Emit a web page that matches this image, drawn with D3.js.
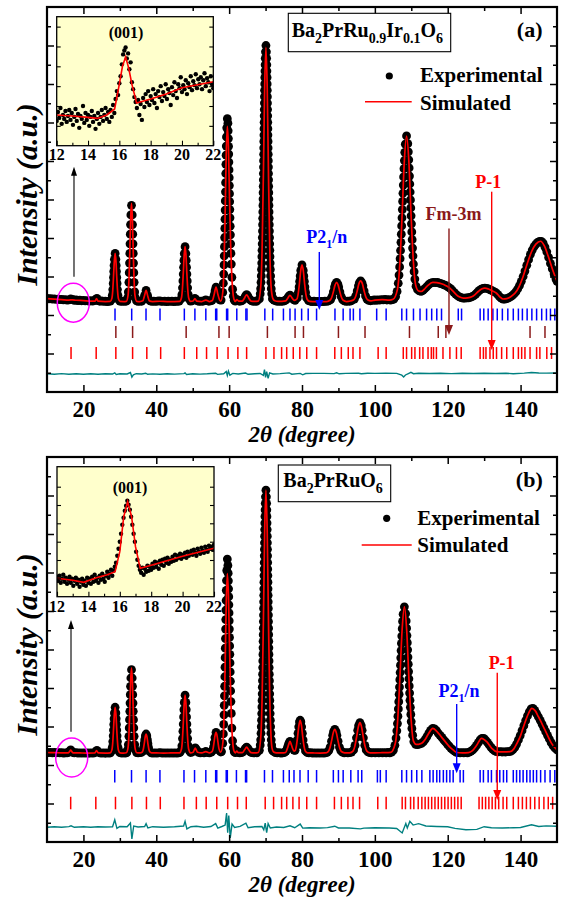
<!DOCTYPE html>
<html>
<head>
<meta charset="utf-8">
<script src="https://cdn.jsdelivr.net/npm/d3@7"></script>
<style>
  body { margin: 0; background: #fff; }
  svg { display: block; }
  text { font-family: "Liberation Serif", "Times New Roman", serif; font-weight: bold; }
</style>
</head>
<body>
<svg id="chart" width="563" height="897"></svg>
<script>
// ---------- axis definitions ----------
const twoThetaDomain = [10, 150];
const intensityDomain = [0, 400];
const xMajorTicks = [20, 40, 60, 80, 100, 120, 140];
const xMinorTicks = [30, 50, 70, 90, 110, 130];
const yMajorTicks = [40, 80, 120, 160, 200, 240, 280, 320, 360];
const yMinorTicks = [20, 60, 100, 140, 180, 220, 260, 300, 340, 380];
const insetDomain = [12, 22];
const insetIntensityDomain = [0, 130];
const insetMajorTicks = [12, 14, 16, 18, 20, 22];
const insetMinorTicks = [13, 15, 17, 19, 21];

// ---------- (a) Ba2PrRu0.9Ir0.1O6 ----------
const obsA = [
[10,97.2],[10.5,96.8],[11,97],[11.5,96.5],[12,96.7],[12.5,96.2],[13,96.4],[13.5,95.9],[14,96.3],[14.5,95.7],[15,96],[15.5,95.4],[16,95.8],[16.5,96.6],[17,96.2],[17.5,95.3],[18,95.6],[18.5,95],[19,95.3],[19.5,94.8],[20,95.2],[20.5,94.7],[21,95],[21.5,94.5],[22,94.8],[22.5,94.4],[23,94.9],[23.4,96.2],[23.7,97.3],[24,95],[24.5,94.3],[25,94.6],[25.5,94.1],[26,94.4],[26.5,94],[27,94.3],[27.4,94.5],
[27.76,96.5],[27.92,100.3],[28.06,106.5],[28.17,112.8],[28.25,119],[28.33,125.3],[28.41,131.5],[28.5,137.8],[28.7,144],[28.9,137.8],[28.99,131.5],[29.07,125.3],[29.15,119],[29.24,112.8],[29.34,106.5],[29.48,100.3],[29.64,96.5],
[30,94.4],[30.5,94.2],[31,94.5],[31.5,94.1],[31.9,94.6],
[32.17,98],[32.33,104],[32.48,114],[32.57,124],[32.65,134],[32.73,144],[32.79,154],[32.86,164],[32.93,174],[33.02,184],[33.2,194],[33.39,184],[33.47,174],[33.54,164],[33.61,154],[33.68,144],[33.75,134],[33.83,124],[33.92,114],[34.07,104],[34.23,98],
[34.6,94.6],[35,94.2],[35.5,94.5],[36,94.3],
[36.5,96.5],[36.8,100.5],[37.2,105.5],[37.6,100.5],[37.9,96.5],
[38.3,94.6],[38.8,94.2],[39.3,94.5],[39.8,94.1],[40.3,94.4],[40.8,94.6],[41.3,94.3],[41.8,94.1],[42.3,94.4],[42.8,94],[43.3,94.3],[43.8,94.1],[44.3,94.4],[44.8,94],[45.3,94.3],[45.8,94.1],[46.3,94.5],
[46.86,96.9],[47.03,101.1],[47.19,108.3],[47.31,115.4],[47.4,122.5],[47.49,129.6],[47.58,136.8],[47.68,143.9],[47.9,151],[48.12,143.9],[48.22,136.8],[48.31,129.6],[48.4,122.5],[48.5,115.4],[48.61,108.3],[48.77,101.1],[48.94,96.9],
[49.4,94.5],[49.9,94.8],[50.3,96],[50.6,97.2],[50.9,96],[51.3,94.6],[51.8,94.2],[52.3,94.5],[52.8,94.3],[53.3,95],[53.6,95.6],[53.9,95],[54.4,94.3],[54.9,94.6],[55.3,95.2],
[55.7,98],[55.95,101.5],[56.15,105.5],[56.4,109],[56.65,105.5],[56.85,101.5],[57.1,98],[57.4,95.8],
[57.8,95.5],[58.25,103.5],[58.41,113],[58.51,122.5],[58.59,132],[58.65,141.5],[58.71,151],[58.76,160.5],[58.81,170],[58.86,179.5],[58.9,189],[58.94,198.5],[58.99,208],[59.03,217.5],[59.07,227],[59.11,236.5],[59.16,246],[59.21,255.5],[59.27,265],[59.34,274.5],[59.5,284],
[59.66,279.3],[59.73,271.3],[59.79,263.3],[59.84,255.2],[59.89,247.2],[59.93,238.9],[59.97,230.7],[60.02,222.7],[60.06,214.5],[60.1,206.1],[60.14,197.7],[60.19,189.5],[60.24,181],[60.29,172.3],[60.35,163.3],[60.41,154],[60.49,144],[60.59,132.9],[60.75,119.2],[60.95,106.8],[61.15,99.6],[61.4,95.4],
[61.7,94.4],[62.1,96.2],[62.5,94.8],[62.9,94.3],[63.4,94.6],[63.8,95.6],[64.2,97.6],[64.5,99.8],[64.8,101.2],[65.1,99.8],[65.4,97.6],[65.8,95.6],[66.2,94.6],[66.7,94.2],[67.2,94.5],[67.6,94.3],
[68.3,96.7],[68.53,102],[68.65,107.3],[68.75,114],[68.82,120.6],[68.89,127.3],[68.94,133.9],[68.99,140.6],[69.03,147.2],[69.07,153.9],[69.11,160.5],[69.15,167.2],[69.18,173.8],[69.21,180.5],[69.24,187.1],[69.27,193.8],[69.3,200.4],[69.32,207.1],[69.35,213.7],[69.38,220.4],[69.4,227],[69.43,233.7],[69.45,240.3],[69.47,247],[69.5,253.6],[69.52,260.3],[69.55,266.9],[69.57,273.6],[69.6,280.2],[69.62,286.9],[69.65,293.5],[69.68,300.2],[69.7,306.8],[69.73,313.5],[69.76,320.1],[69.79,326.8],[69.83,333.4],[69.87,340],[69.91,346.7],[69.97,353.4],[70.1,360],
[70.23,353.4],[70.29,346.7],[70.34,340],[70.37,333.4],[70.41,326.8],[70.44,320.1],[70.47,313.5],[70.5,306.8],[70.52,300.2],[70.55,293.5],[70.58,286.9],[70.6,280.2],[70.63,273.6],[70.65,266.9],[70.68,260.3],[70.7,253.6],[70.73,247],[70.75,240.3],[70.78,233.7],[70.8,227],[70.83,220.4],[70.85,213.7],[70.88,207.1],[70.91,200.4],[70.93,193.8],[70.96,187.1],[70.99,180.5],[71.02,173.8],[71.06,167.2],[71.09,160.5],[71.13,153.9],[71.17,147.2],[71.21,140.6],[71.26,133.9],[71.31,127.3],[71.38,120.6],[71.45,114],[71.56,107.3],[71.68,102],[71.9,96.7],
[72,97.2],[72.3,95.5],[72.8,94.6],[73.3,94.2],[73.8,94.5],[74.3,94.1],[74.8,94.4],[75.3,94.8],
[75.7,96],[76.1,97.8],[76.4,99.6],[76.7,100.6],[77,99.6],[77.3,97.8],[77.7,96],[78.1,95.2],
[78.72,97.8],[79.01,103.5],[79.2,109.2],[79.35,114.9],[79.5,120.6],[79.66,126.3],[80,132],[80.34,126.3],[80.5,120.6],[80.65,114.9],[80.8,109.2],[80.99,103.5],[81.28,97.8],
[81.8,95],[82.3,94.3],[82.8,94],[83.3,94.3],[83.8,94],[84.3,94.2],[84.8,93.9],[85.3,94.2],[85.8,94],[86.3,94.3],[86.8,94.1],[87.3,94.6],
[87.86,96],[88.23,99],[88.6,104],[88.92,109],[89.15,112],[89.5,114],[89.85,112],[90.08,109],[90.4,104],[90.77,99],[91.14,96],
[91.6,94.6],[92.1,94.2],[92.6,94.4],[93.1,94.3],[93.6,94.8],
[94.37,96.6],[94.76,99.8],[95.15,105],[95.49,110.3],[95.73,113.4],[96.1,115.5],[96.47,113.4],[96.71,110.3],[97.05,105],[97.44,99.8],[97.83,96.6],
[98.3,95.2],[98.8,94.8],[99.3,95.1],[99.8,95.6],[100.3,95.3],[100.8,95.8],[101.3,95.5],[101.8,96],[102.3,95.7],[102.8,96.1],[103.3,95.6],[103.8,95.9],[104.3,95.5],[104.8,96],[105.2,96.4],
[105.7,99.1],[106.1,104.5],[106.42,113],[106.63,121.5],[106.8,130],[106.93,138.5],[107.05,147],[107.16,155.5],[107.26,164],[107.36,172.5],[107.45,181],[107.54,189.5],[107.63,198],[107.71,206.5],[107.8,215],[107.89,223.5],[107.99,232],[108.1,240.5],[108.21,249],[108.36,257.5],[108.7,266],
[109.04,258],[109.19,249.5],[109.31,241.2],[109.41,232.8],[109.51,224.4],[109.6,216.1],[109.69,207.8],[109.77,199.5],[109.86,191.2],[109.95,183],[110.04,174.7],[110.14,166.3],[110.24,158.2],[110.35,149.5],[110.47,141.3],[110.58,133],[110.77,125],[110.98,117.3],[111.3,110],[111.7,106.5],[112.2,105],[112.7,104.6],
[113.2,105.5],[113.7,107.5],[114.2,109.3],[114.7,111.2],[115.2,112.8],[115.7,113.6],[116.2,114],[116.7,113.6],[117.2,113.8],[117.7,113],[118.2,112.6],[118.7,111.9],[119.2,111],[119.7,110.2],[120.2,109],[120.7,107.6],[121.2,105.8],[121.7,103.6],[122.2,101.8],[122.7,100],[123.2,98.8],[123.7,98],[124.2,97.5],[124.7,97.6],[125.2,97.7],[125.7,97.9],[126.2,98.3],[126.7,99],[127.2,100.2],[127.7,101.8],[128.2,103.7],[128.7,105.5],[129.2,106.9],[129.7,107.7],[130.2,108],[130.7,107.6],[131.2,107],[131.7,106.2],[132.2,105.2],[132.7,104.3],[133.2,103.2],[133.7,101.5],[134.2,99.2],[134.7,97.5],[135.2,96.6],[135.7,96.6],[136.2,97],[136.7,97.7],[137.2,98.8],[137.7,100.2],[138.2,101.9],[138.7,104],[139.2,107],[139.7,110.6],[140.2,115],[140.7,120],[141.2,125.6],[141.7,131.7],[142.2,137.5],[142.7,143],[143.2,147.5],[143.7,151],[144.2,153.6],[144.7,155.4],[145.2,156.5],[145.7,156.5],[146.2,154.6],[146.7,150.6],[147.2,145.6],[147.7,139.8],[148.2,133.6],[148.7,128],[149.2,122.5],[149.7,117.6],[150,115]
];
const calcA = [
[10,97],[12,96.5],[14,96],[16,95.5],[17,95.8],[18,95.3],[20,95],[22,94.5],[23.2,94.5],[23.6,97],[24,94.5],[26,94],[27.35,94.1],
[27.8,97.1],[28.03,104.5],[28.25,119],[28.48,136],[28.7,144],[28.93,136],[29.15,119],[29.38,104.5],[29.6,97.1],[30.05,94.1],[31,94],
[31.78,94.2],[32.25,100.4],[32.49,115.4],[32.73,145],[32.96,179.8],[33.2,196],[33.44,179.8],[33.68,145],[33.91,115.4],[34.15,100.4],[34.63,94.2],[35.5,94],
[36.3,94.7],[36.75,99.8],[37.2,105.5],[37.65,99.8],[38.1,94.7],[39,94],[41,94.3],[43,94],[45,94],[46.4,94.1],
[46.9,97.6],[47.15,106],[47.4,122.5],[47.65,142],[47.9,151],[48.15,142],[48.4,122.5],[48.65,106],[48.9,97.6],[49.4,94.1],
[50.1,94.5],[50.6,97],[51.1,94.5],[52.5,94],[53.6,95.5],[54.6,94],
[55.4,95],[55.9,101.5],[56.4,109],[56.9,101.5],[57.4,95.5],[57.7,94.4],
[58.3,105.4],[58.6,132.2],[58.9,185],[59.2,247],[59.5,276],[59.8,255],[60.1,202],[60.4,154],[60.7,122.5],[61,104.5],[61.3,96.7],[61.7,94.2],
[62.1,96],[62.6,94.5],[63.6,94.5],[64.2,97.5],[64.8,101],[65.4,97.5],[66,94.5],[67,94.2],
[68,94.5],[68.7,110.5],[69.05,149.4],[69.4,226],[69.75,316],[70.1,358],[70.45,316],[70.8,226],[71.15,149.4],[71.5,110.5],[72,97],[72.5,94.8],[73.5,94.2],[74.5,94.2],
[75.5,94.6],[76.1,97.5],[76.7,100.5],[77.3,97.5],[77.9,95.2],
[78.6,96.6],[78.95,102],[79.3,113],[79.65,126],[80,132],[80.35,126],[80.7,113],[81.05,102],[81.4,96.4],[82.1,94.1],[83,94],[85,94],[86.8,94],
[87.7,95.3],[88.15,98.2],[88.6,104],[89.05,110.8],[89.5,114],[89.95,110.8],[90.4,104],[90.85,98.2],[91.3,95.3],[92.2,94],[93.25,94.5],
[94.2,95.8],[94.7,99],[95.15,105],[95.6,112.2],[96.1,115.5],[96.6,112.2],[97.05,105],[97.5,99],[98,95.8],[98.95,94.6],[100,95.5],[102,96],[104,95.5],[105,96.3],
[106.2,106.6],[106.83,131.7],[107.45,181],[108.08,239],[108.7,266],[109.33,240],[109.95,183],[110.58,135.2],[111.2,111],[112,105],[112.8,104.5],
[113.5,106.5],[114.5,110.5],[115.9,113.9],[117,113.6],[118.3,112.5],[119.5,110.5],[120.6,107.9],[121.5,104.5],[122.4,101],[123.3,98.6],[124.3,97.5],[125.5,97.8],[126.6,98.9],[127.5,101.2],[128.4,104.4],[129.3,107],[130.2,108],[131.2,107],[132.3,105],[133.4,102.6],[134.3,98.9],[135.2,96.6],[136.2,97],[137.3,99],[138.5,102.8],[139.6,109.6],[140.7,120],[141.8,133],[143,145.7],[144.2,153.6],[145.5,156.6],[146.5,152],[147.6,141],[148.8,127],[150,115]
];
const diffA = [
[10,0.3],[12,-0.2],[14,0.4],[16,-0.3],[18,0.2],[20,-0.2],[22,0.3],[24,-0.2],[26,0.2],[28,0],[28.6,1.2],[29,-0.4],[30,0.2],[32,0],[32.9,1.5],[33.3,-3.2],[33.7,-0.8],[34.5,0.3],[36,0],[37.1,0.8],[37.6,-0.3],[39,0.1],[41,-0.2],[43,0.2],[45,-0.1],[47.6,0.4],[47.9,1.2],[48.3,-0.5],[50,0.2],[52,-0.1],[54,0.2],[56.3,0.8],[56.8,-0.4],[58.5,0.3],[59.2,2.5],[59.5,-1.5],[59.8,3],[60.2,-1.2],[61,0.6],[62.5,0],[64.5,1],[65.2,-0.3],[67,0.2],[68.5,0.5],[69.4,-1.5],[69.7,4.5],[70,-3.5],[70.3,2.5],[70.7,-4.5],[71.1,1.2],[72,0],[74,0.4],[76.5,1.2],[77.2,-0.2],[79.5,0.6],[80.2,-0.8],[81,0.5],[83,0.6],[86,0.7],[88.8,0.4],[89.5,1.2],[90.2,0.2],[92,0.7],[95.5,0.8],[96.3,0.3],[98,0.8],[100,0.7],[103,0.8],[106,0.6],[107.4,-1.2],[107.9,-3],[108.4,-1],[109.2,0.5],[109.9,1.8],[110.6,0.3],[112,0.8],[115,0.5],[118,0.8],[121,0.4],[124,0.8],[127,0.5],[130,0.8],[133,0.5],[136,0.8],[138,0.3],[141,0.9],[143,1.5],[145,1],[147,0.9],[150,1.1]
];
const braggP21nA = [28.67,33.25,37.18,41.02,47.7,50.6,53.6,56.3,56.6,59.3,59.6,62.1,64.6,64.9,69.8,71.95,74.9,76.7,78.1,79.9,81.7,84.0,89.05,91.3,93.2,94.1,95.9,100.5,103.1,107.4,108.7,110.6,112.4,114.2,115.6,117.0,118.3,122.9,123.8,128.9,129.9,131.1,132.4,133.6,135.0,136.5,138.0,139.4,140.5,141.8,143.1,144.4,145.8,147.1,148.2,149.4];
const braggFm3mA = [28.9,33.5,48.2,57.2,60.0,70.5,78.1,80.4,90.0,97.3,109.5,117.4,119.5,142.6,146.7];
const braggP1A = [16.6,23.5,28.9,33.5,37.4,41.2,47.7,51.1,53.8,56.7,59.7,62.4,64.8,70.1,72.3,74.4,75.8,77.6,79.4,81.3,84.0,89.0,90.8,92.7,94.0,95.9,100.9,103.1,107.8,108.7,110.1,111.0,112.3,113.2,114.6,115.5,116.1,116.9,118.7,120.6,122.4,123.7,128.9,129.8,130.5,131.6,132.5,133.4,134.8,136.2,138.0,139.4,140.3,141.2,142.6,144.4,145.3,147.2,148.5];
const insetObsA = [
[12,25],[12.08,34],[12.16,28],[12.24,38],[12.32,22],[12.4,31],[12.48,27],[12.56,35],[12.64,24],[12.72,30],[12.8,36],[12.88,26],[12.96,33],[13.04,21],[13.12,29],[13.2,37],[13.28,25],[13.36,32],[13.44,18],[13.52,30],[13.6,27],[13.68,40],[13.76,23],[13.84,33],[13.92,26],[14,31],[14.08,20],[14.16,29],[14.24,35],[14.32,24],[14.4,30],[14.48,17],[14.56,27],[14.64,33],[14.72,22],[14.8,29],[14.88,36],[14.96,25],[15.04,31],[15.12,38],[15.2,27],[15.28,34],[15.36,24],[15.44,36],[15.52,29],[15.6,41],[15.68,33],[15.76,47],[15.84,55],[15.92,51],[16,63],[16.08,70],[16.16,82],[16.24,92],[16.32,96],[16.4,99],[16.48,88],[16.56,93],[16.64,77],[16.72,84],[16.8,64],[16.88,57],[16.96,49],[17.04,44],[17.12,38],[17.2,46],[17.28,31],[17.36,42],[17.44,26],[17.52,48],[17.6,39],[17.68,52],[17.76,44],[17.84,55],[17.92,41],[18,50],[18.08,46],[18.16,57],[18.24,43],[18.32,52],[18.4,38],[18.48,55],[18.56,49],[18.64,60],[18.72,45],[18.8,54],[18.88,50],[18.96,62],[19.04,47],[19.12,57],[19.2,53],[19.28,41],[19.36,59],[19.44,51],[19.52,64],[19.6,55],[19.68,48],[19.76,62],[19.84,58],[19.92,69],[20,54],[20.08,61],[20.16,57],[20.24,66],[20.32,52],[20.4,63],[20.48,59],[20.56,70],[20.64,56],[20.72,65],[20.8,61],[20.88,72],[20.96,58],[21.04,67],[21.12,62],[21.2,69],[21.28,57],[21.36,66],[21.44,73],[21.52,60],[21.6,68],[21.68,64],[21.76,55],[21.84,70],[21.92,62],[22,58]
];
const insetCalcA = [[12,31],[13,30],[14,28.5],[14.6,27.5],[15.2,31],[15.7,37],[16,62],[16.2,80],[16.4,89.5],[16.6,78],[16.8,62],[17.1,43],[18,47],[19,52],[20,58.5],[21,61.5],[22,64.5]];

// ---------- (b) Ba2PrRuO6 ----------
const obsB = [
[10,93.2],[10.5,92.8],[11,93.1],[11.5,92.7],[12,93],[12.5,92.6],[13,92.9],[13.5,92.5],[14,92.8],[14.5,92.4],[15,92.7],[15.5,92.5],[15.9,93.2],[16.2,94.5],[16.5,95.8],[16.8,94.3],[17.1,93],[17.5,92.5],[18,92.8],[18.5,92.4],[19,92.7],[19.5,92.3],[20,92.6],[20.5,92.3],[21,92.6],[21.5,92.2],[22,92.5],[22.5,92.3],[23,92.7],[23.4,94],[23.7,95.2],[24,93.6],[24.5,92.5],[25,92.3],[25.5,92.6],[26,92.2],[26.5,92.5],[27,92.3],[27.4,92.6],
[27.76,94.9],[27.92,98.4],[28.06,104.4],[28.17,110.3],[28.25,116.3],[28.33,122.2],[28.41,128.1],[28.5,134.1],[28.7,140],[28.9,134.1],[28.99,128.1],[29.07,122.2],[29.15,116.3],[29.24,110.3],[29.34,104.4],[29.48,98.4],[29.64,94.9],
[30,92.8],[30.5,92.4],[31,92.7],[31.5,92.3],[31.9,92.8],
[32.17,96],[32.33,101.2],[32.48,109.8],[32.57,118.5],[32.65,127.1],[32.73,135.8],[32.79,144.4],[32.86,153.1],[32.93,161.7],[33.02,170.4],[33.2,179],[33.39,170.4],[33.47,161.7],[33.54,153.1],[33.61,144.4],[33.68,135.8],[33.75,127.1],[33.83,118.5],[33.92,109.8],[34.07,101.2],[34.23,96],
[34.6,92.9],[35,92.5],[35.5,92.8],[35.9,93.1],
[36.29,94.5],[36.54,98.4],[36.7,102.4],[36.84,106.3],[37,110.2],[37.2,112.2],[37.4,110.2],[37.56,106.3],[37.7,102.4],[37.86,98.4],[38.11,94.5],
[38.6,92.7],[39.1,92.4],[39.6,92.7],[40.1,92.3],[40.6,92.6],[41.1,92.8],[41.6,92.4],[42.1,92.6],[42.6,92.3],[43.1,92.6],[43.6,92.4],[44.1,92.7],[44.6,92.3],[45.1,92.6],[45.6,92.4],[46.1,92.7],[46.5,93],
[46.86,95.5],[47.03,100],[47.19,107.5],[47.31,115],[47.4,122.5],[47.49,130],[47.58,137.5],[47.68,145],[47.9,152.5],[48.12,145],[48.22,137.5],[48.31,130],[48.4,122.5],[48.5,115],[48.61,107.5],[48.77,100],[48.94,95.5],
[49.4,93],[49.9,93.5],[50.2,95],[50.45,96.6],[50.7,97.8],[50.95,96.6],[51.2,95],[51.6,93.2],[52.1,92.6],[52.6,92.8],[53.1,92.5],[53.6,94.2],[54.1,92.9],[54.6,92.6],[55.1,93.3],
[55.45,95],[55.7,98.5],[55.9,103],[56.1,108.5],[56.4,114],[56.7,108.5],[56.9,103],[57.1,98.5],[57.35,95],[57.7,93.5],
[57.9,94],[58.25,102.4],[58.41,112.3],[58.51,122.2],[58.59,132.1],[58.65,142],[58.71,151.9],[58.76,161.8],[58.81,171.7],[58.86,181.6],[58.9,191.5],[58.94,201.4],[58.99,211.3],[59.03,221.2],[59.07,231.1],[59.11,241],[59.16,250.9],[59.21,261.5],[59.27,271.7],[59.34,282.1],[59.5,293.9],
[59.66,287.3],[59.73,279.3],[59.79,271.3],[59.84,263.1],[59.89,254.9],[59.93,246.4],[59.97,238],[60.02,229.8],[60.06,221.2],[60.1,212.5],[60.14,203.7],[60.19,195],[60.24,186],[60.29,176.7],[60.35,167],[60.41,156.9],[60.49,145.9],[60.59,133.6],[60.75,118.4],[60.95,105.2],[61.15,97.7],[61.4,93.7],
[61.7,92.8],[62.1,94.6],[62.5,93],[62.9,92.6],[63.4,92.9],[63.8,93.6],[64.2,95.6],[64.5,97.4],[64.8,98.6],[65.1,97.4],[65.4,95.6],[65.8,93.6],[66.2,92.8],[66.7,92.5],[67.2,92.8],[67.6,92.6],
[68.3,95.2],[68.53,100.7],[68.65,106.2],[68.75,113],[68.82,119.8],[68.89,126.6],[68.94,133.5],[68.99,140.3],[69.03,147.1],[69.07,153.9],[69.11,160.8],[69.15,167.6],[69.18,174.4],[69.21,181.2],[69.24,188.1],[69.27,194.9],[69.3,201.7],[69.32,208.5],[69.35,215.4],[69.38,222.2],[69.4,229],[69.43,235.8],[69.45,242.7],[69.47,249.5],[69.5,256.3],[69.52,263.1],[69.55,270],[69.57,276.8],[69.6,283.6],[69.62,290.4],[69.65,297.3],[69.68,304.1],[69.7,310.9],[69.73,317.7],[69.76,324.6],[69.79,331.4],[69.83,338.2],[69.87,345],[69.91,351.9],[69.97,358.7],[70.1,365.5],
[70.23,358.7],[70.29,351.9],[70.34,345],[70.37,338.2],[70.41,331.4],[70.44,324.6],[70.47,317.7],[70.5,310.9],[70.52,304.1],[70.55,297.3],[70.58,290.4],[70.6,283.6],[70.63,276.8],[70.65,270],[70.68,263.1],[70.7,256.3],[70.73,249.5],[70.75,242.7],[70.78,235.8],[70.8,229],[70.83,222.2],[70.85,215.4],[70.88,208.5],[70.91,201.7],[70.93,194.9],[70.96,188.1],[70.99,181.2],[71.02,174.4],[71.06,167.6],[71.09,160.8],[71.13,153.9],[71.17,147.1],[71.21,140.3],[71.26,133.5],[71.31,126.6],[71.38,119.8],[71.45,113],[71.56,106.2],[71.68,100.7],[71.9,95.2],
[71.8,96.8],[72.2,94.2],[72.7,92.8],[73.2,92.5],[73.7,92.8],[74.2,92.4],[74.7,92.7],[75.2,93],
[75.6,94.5],[75.95,97.5],[76.2,100.5],[76.45,103],[76.7,104.6],[76.95,103],[77.2,100.5],[77.45,97.5],[77.8,95.5],
[78.1,95.2],[78.43,99.8],[78.7,106.1],[78.9,112.9],[79.1,119.7],[79.31,124.8],[79.5,126.5],[79.69,124.8],[79.9,119.7],[80.1,112.9],[80.3,106.1],[80.57,99.3],[80.95,94.6],
[81.4,93],[81.9,92.6],[82.4,92.8],[82.9,92.4],[83.4,92.6],[83.9,92.3],[84.4,92.6],[84.9,92.4],[85.4,92.7],[85.9,92.4],[86.4,92.6],[86.9,93.2],
[87.36,95],[87.73,98.6],[88.1,104.8],[88.42,110.9],[88.65,114.6],[89,117],[89.35,114.6],[89.58,110.9],[89.9,104.8],[90.27,98.6],[90.64,95],
[91.1,93.3],[91.6,92.6],[92.1,92.9],[92.6,92.5],[93.1,92.8],[93.6,93.4],
[94.17,95.7],[94.56,100.4],[94.95,108.3],[95.29,116.1],[95.53,120.9],[95.9,124],[96.27,120.9],[96.51,116.1],[96.85,108.3],[97.24,100.4],[97.63,95.7],
[98.1,93.6],[98.6,92.8],[99.1,92.5],[99.6,92.8],[100.1,92.5],[100.6,92.9],[101.1,92.6],[101.6,92.9],[102.1,92.6],[102.6,92.9],[103.1,92.7],[103.6,93],[104.1,92.7],[104.6,93.3],[105.1,95.5],
[105.5,100.4],[105.82,108],[106.03,115.5],[106.2,123.1],[106.33,130.7],[106.45,138.3],[106.56,145.8],[106.66,153.4],[106.76,161],[106.85,168.6],[106.94,176.1],[107.03,183.7],[107.11,191.3],[107.2,198.9],[107.29,206.4],[107.39,214],[107.5,221.6],[107.61,229.2],[107.76,236.7],[108.1,244.3],
[108.44,237.2],[108.59,229.7],[108.71,222.1],[108.81,214.5],[108.91,207.1],[109,199.7],[109.09,192.1],[109.17,184.7],[109.26,177.1],[109.35,169.6],[109.44,162.2],[109.54,154.7],[109.64,147.2],[109.75,139.9],[109.87,132.5],[109.98,125.1],[110.17,118],[110.38,111],[110.7,104.4],
[111.2,101.5],[111.7,101.2],[112.2,101.6],[112.8,102.5],[113.3,104],[113.8,106.5],[114.3,109.5],[114.8,113],[115.3,116],[115.9,118],[116.4,117.5],[116.9,115.6],[117.4,113],[117.9,110.8],[118.4,108.6],[118.9,106.2],[119.4,104],[119.9,101.8],[120.4,99.5],[120.9,97.3],[121.4,95.8],[121.9,94.3],[122.4,93.2],[122.9,92.9],[123.4,92.6],[123.9,92.8],[124.4,92.6],[124.9,92.9],[125.4,92.7],[125.9,93.3],[126.4,94.3],[126.9,95.8],[127.4,97.8],[127.9,100.3],[128.4,103.2],[128.9,106],[129.4,107.6],[129.9,107.6],[130.4,105.8],[130.9,103.4],[131.4,100.8],[131.9,98.2],[132.4,96.2],[132.9,94.7],[133.4,93.9],[133.9,93.6],[134.4,93.8],[134.9,93.5],[135.4,93.7],[135.9,93.5],[136.4,93.8],[136.9,93.9],[137.4,94.5],[137.9,96],[138.4,98.3],[138.9,101.8],[139.4,106],[139.9,110.6],[140.4,115.6],[140.9,120.8],[141.4,126],[141.9,131],[142.4,135.2],[142.9,138.2],[143.4,138.8],[143.9,136.8],[144.4,133.4],[144.9,130],[145.4,126.4],[145.9,122.5],[146.4,118.5],[146.9,114.6],[147.4,110.8],[147.9,107],[148.4,103.2],[148.9,100.2],[149.4,97.8],[150,95.6]
];
const calcB = [
[10,93],[12,92.8],[14,92.6],[15.8,92.6],[16.2,94],[16.5,95.6],[16.8,94],[17.2,92.6],[19,92.5],[21,92.4],[23.1,92.5],[23.6,95],[24.1,92.5],[26,92.4],[27.35,92.6],
[27.8,95.5],[28.03,102.5],[28.25,116.3],[28.48,132.4],[28.7,140],[28.93,132.4],[29.15,116.3],[29.38,102.5],[29.6,95.5],[30.05,92.6],[31,92.4],
[31.78,92.7],[32.25,98],[32.49,111.1],[32.73,136.8],[32.96,166.9],[33.2,181],[33.44,166.9],[33.68,136.8],[33.91,111.1],[34.15,98],[34.63,92.7],[35.5,92.5],
[36.2,93.7],[36.45,96.6],[36.7,102.3],[36.95,109],[37.2,112.2],[37.45,109],[37.7,102.3],[37.95,96.6],[38.2,93.7],[38.7,92.5],[40,92.5],[42,92.4],[44,92.5],[46.4,92.6],
[46.9,96.3],[47.15,105.1],[47.4,122.5],[47.65,143],[47.9,152.5],[48.15,143],[48.4,122.5],[48.65,105.1],[48.9,96.3],[49.4,92.6],
[50.1,93.2],[50.4,95.5],[50.7,97.5],[51,95.5],[51.3,93.2],[52.5,92.5],[53.6,94],[54.6,92.6],
[55.3,93.8],[55.6,97],[55.85,103.3],[56.12,110.6],[56.4,114],[56.68,110.6],[56.95,103.3],[57.2,97],[57.7,93.3],
[58.3,103.9],[58.6,130.9],[58.9,184],[59.2,247],[59.5,278.9],[59.8,257.2],[60.1,205],[60.4,155.7],[60.7,121.7],[61,102.7],[61.3,94.9],[61.7,92.6],
[62.1,94.5],[62.5,92.8],[63.6,92.8],[64.2,95.5],[64.8,98.5],[65.4,95.5],[66,92.8],[67,92.5],
[68,93],[68.7,109.6],[69.05,149.8],[69.4,229],[69.75,322.1],[70.1,365.5],[70.45,322.1],[70.8,229],[71.15,149.8],[71.5,109.6],[71.8,97],[72.2,93.5],[73,92.5],[74.5,92.5],
[75.5,93],[76.1,98.5],[76.4,102],[76.7,104.5],[77,102],[77.3,98.5],[77.8,94.5],
[78.1,94.9],[78.45,99.7],[78.8,109.5],[79.15,121.1],[79.5,126.5],[79.85,121.1],[80.2,109.5],[80.55,99.6],[80.9,94.6],[81.6,92.6],[83,92.5],[85,92.4],[86.3,92.5],
[87.2,94],[87.65,97.6],[88.1,104.8],[88.55,113.1],[89,117],[89.45,113.1],[89.9,104.8],[90.35,97.6],[90.8,94],[91.7,92.6],[92.5,92.5],[93.05,92.6],
[94,94.5],[94.48,99.1],[94.95,108.3],[95.43,119],[95.9,124],[96.38,119],[96.85,108.3],[97.33,99.1],[97.8,94.5],[98.75,92.6],[100,92.6],[102,92.8],[104.35,93.1],
[105.6,102.3],[106.23,124.6],[106.85,168.6],[107.48,220.2],[108.1,244.3],[108.73,220.7],[109.35,169.6],[109.98,126],[110.6,104.8],[111.3,101.5],[112,101.5],[112.85,102.5],
[113.8,106.5],[114.8,113],[115.9,118],[117,115],[118.3,109],[119.7,102.5],[120.6,98.5],[121.5,95.6],[122.5,93],[124,92.7],[125.7,92.9],[126.8,95],[128,100.8],[129.3,107.7],[130.7,104.2],[132.1,97.3],[133.4,93.8],[135.3,93.6],[137.1,93.8],[138.1,96.5],[139,102.5],[140,110.5],[140.8,119.8],[142.2,133.7],[143.1,138.9],[144,136.5],[144.9,130.2],[146.7,116.4],[148.5,102.5],[150,95.6]
];
const diffB = [
[10,-0.3],[12,0.3],[14,-0.2],[16,0.4],[16.6,1.2],[17.5,-0.3],[20,0.2],[22,-0.2],[24,0.3],[26,0],[28,0.3],[28.6,7.5],[29.2,-1.5],[30,0.5],[32,0.2],[32.9,4.2],[33.3,-12.5],[33.8,1],[35,0],[36.8,0.5],[37.2,3.5],[37.7,-1],[39,0.3],[42,-0.2],[45,0.2],[47.5,1],[47.9,5.8],[48.4,-2],[49.5,0.3],[51,0.8],[53,-0.2],[55,0.5],[56.3,3.5],[56.9,-1.2],[58,0.5],[58.9,2],[59.3,14.5],[59.6,-6],[59.9,12],[60.3,-11.4],[60.8,3],[61.5,-0.5],[63,0.6],[64.6,4],[65.2,-0.8],[67,0.3],[69,0.5],[69.5,-3],[69.9,4],[70.3,-6],[70.7,3.5],[71.3,-1],[73,0],[75,-0.5],[76.7,1.2],[78,-0.8],[79.5,3],[80.2,-1.2],[82,-0.8],[85,-1],[87,-0.7],[89,0.8],[90,-1],[93,-1],[96,-2],[97,-1.2],[100,-0.8],[104,-1],[106,-1.5],[107.5,-6.2],[108.5,3.5],[108.9,-1],[109.6,5.8],[110.5,2],[112,3.5],[114,1],[117,0.5],[120,0.2],[122,-1.5],[125,-2.8],[128,-2.5],[130,0.3],[132,-0.8],[135,-1],[138,-0.8],[140,-0.5],[143,2.3],[145,0.5],[147,1.2],[150,0.8]
];
const braggP21nB = [28.6,33.2,37.2,41.0,47.6,50.5,53.6,56.3,56.6,59.2,59.5,62.0,64.5,64.8,69.7,71.9,74.9,76.5,77.8,79.45,81.7,84.0,88.6,90.0,91.3,93.4,95.4,96.4,100.7,101.5,103.1,107.4,108.7,110.1,111.5,112.9,115.1,116.0,117.0,117.8,118.8,119.7,120.6,121.5,123.4,124.3,128.9,129.8,131.1,132.0,133.4,134.3,135.3,136.2,138.0,138.9,139.8,140.7,141.7,142.6,143.5,144.4,145.5,146.7,148.1,149.4];
const braggP1B = [16.5,23.4,28.8,33.3,37.3,41.1,47.6,51.0,53.7,56.6,59.6,62.3,64.7,69.9,72.2,74.4,75.8,77.5,79.2,81.3,84.0,88.9,90.8,92.6,94.0,95.8,100.8,103.1,107.5,108.4,109.8,110.7,111.9,112.9,113.8,114.7,115.6,116.5,117.4,118.3,119.2,120.1,121.0,121.9,122.8,123.7,128.6,129.5,130.4,131.3,132.2,133.1,134.0,135.2,136.2,138.0,139.4,140.5,141.6,142.7,143.9,145.1,146.4,147.6,148.8];
const insetObsB = [
[12,20],[12.08,16],[12.16,21],[12.24,14],[12.32,18],[12.4,22],[12.48,15],[12.56,19],[12.64,13],[12.72,17],[12.8,20],[12.88,14],[12.96,18],[13.04,11],[13.12,16],[13.2,19],[13.28,13],[13.36,17],[13.44,10],[13.52,15],[13.6,18],[13.68,12],[13.76,16],[13.84,11],[13.92,19],[14,14],[14.08,18],[14.16,13],[14.24,20],[14.32,15],[14.4,22],[14.48,16],[14.56,19],[14.64,14],[14.72,21],[14.8,17],[14.88,23],[14.96,18],[15.04,15],[15.12,21],[15.2,25],[15.28,19],[15.36,23],[15.44,27],[15.52,21],[15.6,26],[15.68,30],[15.76,34],[15.84,41],[15.92,48],[16,55],[16.08,63],[16.16,72],[16.24,79],[16.32,86],[16.4,91],[16.48,96],[16.56,92],[16.64,87],[16.72,80],[16.8,72],[16.88,63],[16.96,55],[17.04,45],[17.12,37],[17.2,31],[17.28,27],[17.36,24],[17.44,29],[17.52,22],[17.6,28],[17.68,25],[17.76,31],[17.84,26],[17.92,30],[18,27],[18.08,33],[18.16,29],[18.24,35],[18.32,30],[18.4,34],[18.48,28],[18.56,36],[18.64,32],[18.72,37],[18.8,31],[18.88,38],[18.96,34],[19.04,39],[19.12,33],[19.2,37],[19.28,35],[19.36,40],[19.44,36],[19.52,42],[19.6,37],[19.68,41],[19.76,39],[19.84,43],[19.92,38],[20,42],[20.08,40],[20.16,44],[20.24,39],[20.32,45],[20.4,41],[20.48,43],[20.56,46],[20.64,42],[20.72,47],[20.8,44],[20.88,41],[20.96,48],[21.04,45],[21.12,43],[21.2,49],[21.28,46],[21.36,44],[21.44,50],[21.52,47],[21.6,45],[21.68,51],[21.76,48],[21.84,50],[21.92,47],[22,52]
];
const insetCalcB = [[12,18.4],[13,16.5],[13.7,14.4],[14.5,19],[15.2,22],[15.7,25],[16,45],[16.25,80],[16.5,95],[16.75,80],[17,50],[17.3,28.4],[18,31.5],[19,36],[20,40.5],[21,44.5],[22,48.4]];

// ---------- colours ----------
const BLUE = "#0000FF", DARKRED = "#8B1A1A", RED = "#FF0000", TEAL = "#008080";

// ---------- drawing ----------
const svg = d3.select("#chart");
const defs = svg.append("defs");

function richText(g, x, y, parts, size, subSize, shift, fill, anchor) {
  const t = g.append("text").attr("x", x).attr("y", y)
    .attr("font-size", size).attr("fill", fill).attr("text-anchor", anchor || "start");
  let prevSub = false;
  parts.forEach(([s, sub]) => {
    const dy = sub && !prevSub ? shift : (!sub && prevSub ? -shift : 0);
    t.append("tspan").attr("dy", dy).attr("font-size", sub ? subSize : size).text(s);
    prevSub = sub;
  });
  return t;
}

function arrowDown(g, x, y1, y2, color) {
  g.append("line").attr("x1", x).attr("x2", x).attr("y1", y1).attr("y2", y2 - 8)
    .attr("stroke", color).attr("stroke-width", 1.4);
  g.append("path").attr("d", `M${x - 4},${y2 - 10} L${x + 4},${y2 - 10} L${x},${y2} Z`).attr("fill", color);
}

function drawPanel(P) {
  const g = svg.append("g");
  const x = d3.scaleLinear().domain(twoThetaDomain).range([P.left, P.right]);
  const y = d3.scaleLinear().domain(intensityDomain).range([P.bottom, P.top]);

  defs.append("clipPath").attr("id", "clip" + P.id).append("rect")
    .attr("x", P.left).attr("y", P.top).attr("width", P.right - P.left).attr("height", P.bottom - P.top);
  const plot = g.append("g").attr("clip-path", `url(#clip${P.id})`);

  // Bragg reflection rows
  P.rows.forEach(r => {
    plot.append("g").selectAll("line").data(r.positions).join("line")
      .attr("x1", d => x(d)).attr("x2", d => x(d))
      .attr("y1", y(r.level + P.tickHalf)).attr("y2", y(r.level - P.tickHalf))
      .attr("stroke", r.color).attr("stroke-width", 1.5);
  });

  // difference curve
  plot.append("path").datum(P.diff)
    .attr("d", d3.line().x(d => x(d[0])).y(d => y(P.diffLevel + d[1])))
    .attr("fill", "none").attr("stroke", TEAL).attr("stroke-width", 1.4);

  // observed points and calculated profile
  plot.append("g").selectAll("circle").data(P.obs).join("circle")
    .attr("cx", d => x(d[0])).attr("cy", d => y(d[1])).attr("r", 4.4).attr("fill", "#000");
  plot.append("path").datum(P.calc)
    .attr("d", d3.line().curve(d3.curveMonotoneX).x(d => x(d[0])).y(d => y(d[1])))
    .attr("fill", "none").attr("stroke", RED).attr("stroke-width", 1.7);

  // phase markers
  P.arrows.forEach(a => arrowDown(g, x(a.x), y(a.from), y(a.to), a.color));
  P.labels.forEach(l => richText(g, x(l.x), y(l.y), l.parts, 18, 12, 5, l.color, "middle"));

  // axes (inward ticks on all four sides)
  const tickStyle = sel => {
    sel.select(".domain").remove();
    sel.selectAll(".tick line").attr("stroke", "#000").attr("stroke-width", 1.5);
  };
  const ax = (axis, tx, ty) => g.append("g").attr("transform", `translate(${tx},${ty})`).call(axis).call(tickStyle);
  const bottomAxis = ax(d3.axisBottom(x).tickValues(xMajorTicks).tickSize(-7).tickPadding(9), 0, P.bottom);
  bottomAxis.attr("font-family", null).attr("font-size", 23)
    .selectAll("text").attr("fill", "#000").attr("dy", null).attr("y", 25)
    .style("font-family", '"Liberation Serif", serif').style("font-weight", "bold");
  ax(d3.axisBottom(x).tickValues(xMinorTicks).tickSize(-4).tickFormat(""), 0, P.bottom);
  ax(d3.axisTop(x).tickValues(xMajorTicks).tickSize(-7).tickFormat(""), 0, P.top);
  ax(d3.axisTop(x).tickValues(xMinorTicks).tickSize(-4).tickFormat(""), 0, P.top);
  ax(d3.axisLeft(y).tickValues(yMajorTicks).tickSize(-7).tickFormat(""), P.left, 0);
  ax(d3.axisLeft(y).tickValues(yMinorTicks).tickSize(-4).tickFormat(""), P.left, 0);
  ax(d3.axisRight(y).tickValues(yMajorTicks).tickSize(-7).tickFormat(""), P.right, 0);
  ax(d3.axisRight(y).tickValues(yMinorTicks).tickSize(-4).tickFormat(""), P.right, 0);

  g.append("rect").attr("x", P.left).attr("y", P.top)
    .attr("width", P.right - P.left).attr("height", P.bottom - P.top)
    .attr("fill", "none").attr("stroke", "#000").attr("stroke-width", 2.2);

  // axis titles
  g.append("text").attr("transform", `translate(37,${(P.top + P.bottom) / 2 - 5}) rotate(-90)`)
    .attr("text-anchor", "middle").attr("font-size", 30).attr("font-style", "italic").text("Intensity (a.u.)");
  g.append("text").attr("x", (P.left + P.right) / 2).attr("y", P.bottom + 50)
    .attr("text-anchor", "middle").attr("font-size", 23).attr("font-style", "italic").text("2\u03B8 (degree)");

  // highlighted (001) region and pointer
  g.append("ellipse").attr("cx", x(P.ring.x)).attr("cy", y(P.ring.y)).attr("rx", 16).attr("ry", 19.5)
    .attr("fill", "none").attr("stroke", "#FF00FF").attr("stroke-width", 1.5);
  const px = x(P.pointer.x), pTop = y(P.pointer.to);
  g.append("line").attr("x1", px).attr("x2", px).attr("y1", y(P.pointer.from)).attr("y2", pTop + 6)
    .attr("stroke", "#000").attr("stroke-width", 1.1);
  g.append("path").attr("d", `M${px - 3},${pTop + 9} L${px + 3},${pTop + 9} L${px},${pTop} Z`).attr("fill", "#000");

  // inset: (001) reflection
  const I = P.inset;
  const ix = d3.scaleLinear().domain(insetDomain).range([I.x0, I.x1]);
  const iy = d3.scaleLinear().domain(insetIntensityDomain).range([I.y1, I.y0]);
  const ig = g.append("g");
  ig.append("rect").attr("x", I.x0).attr("y", I.y0).attr("width", I.x1 - I.x0).attr("height", I.y1 - I.y0)
    .attr("fill", "#FFFFCC");
  defs.append("clipPath").attr("id", "iclip" + P.id).append("rect")
    .attr("x", I.x0).attr("y", I.y0).attr("width", I.x1 - I.x0).attr("height", I.y1 - I.y0);
  const ip = ig.append("g").attr("clip-path", `url(#iclip${P.id})`);
  ip.append("g").selectAll("circle").data(I.obs).join("circle")
    .attr("cx", d => ix(d[0])).attr("cy", d => iy(d[1])).attr("r", 2.2).attr("fill", "#000");
  ip.append("path").datum(I.calc)
    .attr("d", d3.line().x(d => ix(d[0])).y(d => iy(d[1])))
    .attr("fill", "none").attr("stroke", RED).attr("stroke-width", 1.6);
  const iax = (axis, tx, ty) => ig.append("g").attr("transform", `translate(${tx},${ty})`).call(axis).call(tickStyle);
  iax(d3.axisBottom(ix).tickValues(insetMajorTicks).tickSize(-5).tickFormat(""), 0, I.y1);
  iax(d3.axisBottom(ix).tickValues(insetMinorTicks).tickSize(-3).tickFormat(""), 0, I.y1);
  iax(d3.axisLeft(iy).tickValues(I.yTicks).tickSize(-4).tickFormat(""), I.x0, 0);
  iax(d3.axisRight(iy).tickValues(I.yTicks).tickSize(-4).tickFormat(""), I.x1, 0);
  ig.selectAll(".tick line").attr("stroke-width", 1.1);
  ig.append("rect").attr("x", I.x0).attr("y", I.y0).attr("width", I.x1 - I.x0).attr("height", I.y1 - I.y0)
    .attr("fill", "none").attr("stroke", "#000").attr("stroke-width", 1.3);
  ig.append("g").selectAll("text").data(insetMajorTicks).join("text")
    .attr("x", d => ix(d)).attr("y", I.y1 + I.labelGap).attr("text-anchor", "middle").attr("font-size", 16)
    .text(d => d);
  ig.append("text").attr("x", I.titleX).attr("y", I.titleY).attr("text-anchor", "middle")
    .attr("font-size", 16).text("(001)");

  // compound name
  const B = P.box;
  g.append("rect").attr("x", B.x).attr("y", B.y).attr("width", B.w).attr("height", B.h)
    .attr("fill", "#fff").attr("stroke", "#000").attr("stroke-width", 1.1);
  richText(g, B.tx, B.ty, P.formula, 20, 14, 6, "#000", "start");
  g.append("text").attr("x", P.letter[0]).attr("y", P.letter[1]).attr("text-anchor", "middle")
    .attr("font-size", 22).text(P.letterText);

  // legend
  const Lg = P.legend;
  g.append("circle").attr("cx", Lg.dotX).attr("cy", Lg.dotY).attr("r", 3.6).attr("fill", "#000");
  g.append("text").attr("x", Lg.textX).attr("y", Lg.expY).attr("font-size", 21).text("Experimental");
  g.append("line").attr("x1", Lg.lineX0).attr("x2", Lg.lineX1).attr("y1", Lg.lineY).attr("y2", Lg.lineY)
    .attr("stroke", RED).attr("stroke-width", 1.6);
  g.append("text").attr("x", Lg.textX).attr("y", Lg.simY).attr("font-size", 21).text("Simulated");
}

drawPanel({
  id: "a", left: 47, right: 557, top: 7, bottom: 392,
  obs: obsA, calc: calcA, diff: diffA, diffLevel: 18.7, tickHalf: 6.2,
  rows: [
    { positions: braggP21nA, level: 80.5, color: BLUE },
    { positions: braggFm3mA, level: 62.3, color: DARKRED },
    { positions: braggP1A, level: 40.5, color: RED }
  ],
  arrows: [
    { x: 84.75, from: 145.5, to: 85.2, color: BLUE },
    { x: 120.35, from: 170, to: 59.2, color: DARKRED },
    { x: 132.07, from: 208.1, to: 43.6, color: RED }
  ],
  labels: [
    { x: 86.8, y: 154.5, parts: [["P2", 0], ["1", 1], ["/n", 0]], color: BLUE },
    { x: 121.6, y: 178.7, parts: [["Fm-3m", 0]], color: DARKRED },
    { x: 131.1, y: 211.6, parts: [["P-1", 0]], color: RED }
  ],
  ring: { x: 17.22, y: 92.8 },
  pointer: { x: 17.41, from: 119.8, to: 234 },
  inset: { x0: 56.7, x1: 213.3, y0: 16.7, y1: 145.7, labelGap: 14.5, titleX: 126, titleY: 37.7,
           obs: insetObsA, calc: insetCalcA, yTicks: [20, 40, 60, 80, 100, 120] },
  box: { x: 288.3, y: 13.3, w: 162.4, h: 38.4, tx: 291.7, ty: 37.3 },
  formula: [["Ba", 0], ["2", 1], ["PrRu", 0], ["0.9", 1], ["Ir", 0], ["0.1", 1], ["O", 0], ["6", 1]],
  letter: [529.7, 37.3], letterText: "(a)",
  legend: { dotX: 389.3, dotY: 76, textX: 420, expY: 81.7, simY: 110, lineX0: 365, lineX1: 411.7, lineY: 101.7 }
});

drawPanel({
  id: "b", left: 47, right: 557, top: 457, bottom: 842,
  obs: obsB, calc: calcB, diff: diffB, diffLevel: 15.6, tickHalf: 6.5,
  rows: [
    { positions: braggP21nB, level: 68.3, color: BLUE },
    { positions: braggP1B, level: 40.5, color: RED }
  ],
  arrows: [
    { x: 122.46, from: 143.4, to: 71.4, color: BLUE },
    { x: 133.6, from: 175.9, to: 43.6, color: RED }
  ],
  labels: [
    { x: 123.1, y: 151, parts: [["P2", 0], ["1", 1], ["/n", 0]], color: BLUE },
    { x: 134.8, y: 179.7, parts: [["P-1", 0]], color: RED }
  ],
  ring: { x: 16.78, y: 87.7 },
  pointer: { x: 16.59, from: 114.6, to: 230.6 },
  inset: { x0: 57, x1: 214, y0: 466.7, y1: 596.7, labelGap: 15, titleX: 130, titleY: 492.7,
           obs: insetObsB, calc: insetCalcB, yTicks: [18.4, 36.7, 55, 73.4, 91.7, 110] },
  box: { x: 278.3, y: 465, w: 112.4, h: 36.7, tx: 283.3, ty: 487.3 },
  formula: [["Ba", 0], ["2", 1], ["PrRuO", 0], ["6", 1]],
  letter: [529.3, 487.3], letterText: "(b)",
  legend: { dotX: 386.7, dotY: 518.3, textX: 417.3, expY: 525, simY: 551.7, lineX0: 361.7, lineX1: 411.7, lineY: 545 }
});
</script>
</body>
</html>
